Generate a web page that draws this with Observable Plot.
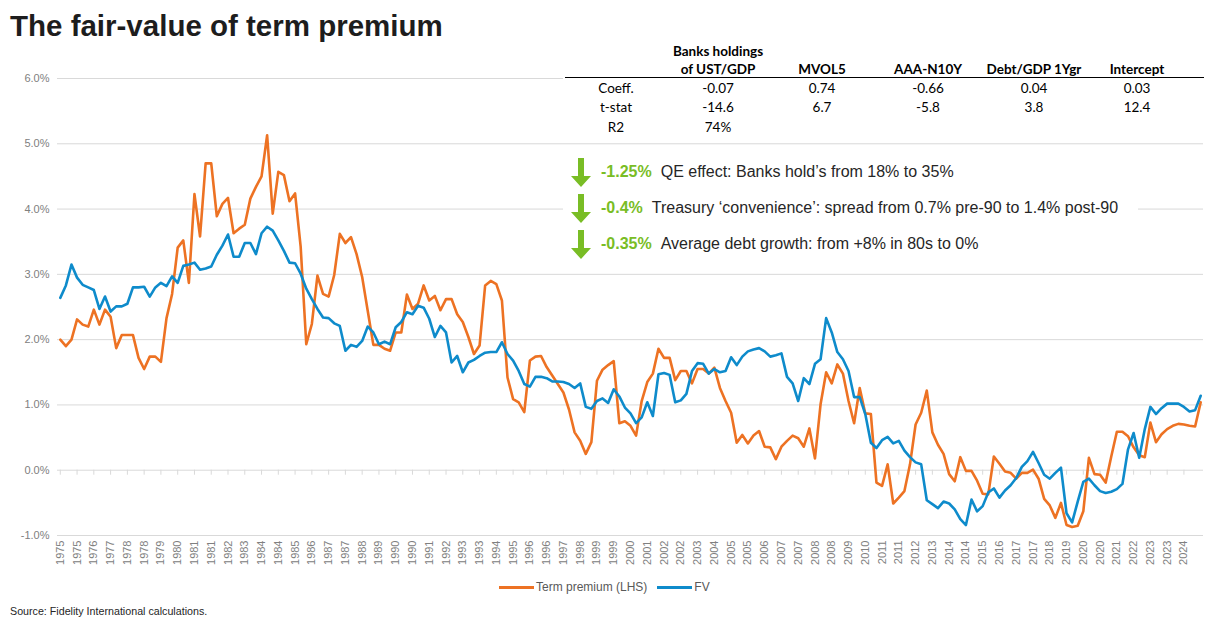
<!DOCTYPE html>
<html>
<head>
<meta charset="utf-8">
<script src="https://cdn.jsdelivr.net/npm/d3@7"></script>
<script src="https://cdn.jsdelivr.net/npm/@observablehq/plot@0.6"></script>
<style>
  body { margin: 0; background: #fff; font-family: "Liberation Sans", Arial, sans-serif; }
  #wrap { position: relative; width: 1222px; height: 621px; overflow: hidden; background: #fff; }
  #title { position: absolute; left: 10px; top: 9px; font-size: 29.5px; font-weight: bold; color: #1d1d1d; line-height: 34px; white-space: nowrap; }
  #chart { position: absolute; left: 0; top: 50px; }
  #table { position: absolute; left: 563px; top: 38px; width: 641px; height: 98px; background: #fff; font-family: Lato, "Liberation Sans", sans-serif; font-size: 13.5px; color: #000; }
  #table .rule { position: absolute; left: 2px; right: 0; top: 39px; height: 0; border-top: 1px solid #000; }
  #table .c { position: absolute; transform: translate(-50%, -50%); white-space: nowrap; line-height: 16px; }
  #table .h { font-weight: bold; }
  #notes { position: absolute; left: 563px; top: 150px; width: 575px; height: 112px; background: #fff; }
  .note { position: absolute; left: 0; height: 30px; display: flex; align-items: center; white-space: nowrap; font-size: 16px; color: #262626; }
  .note svg { margin-left: 8px; margin-right: 10px; }
  .note .pct { color: #79BD25; font-weight: bold; margin-right: 9px; }
  #legend { position: absolute; top: 580px; left: 499px; display: flex; align-items: center; font-size: 12px; color: #595959; white-space: nowrap; }
  #legend .sw { display: inline-block; width: 35px; height: 3px; margin-right: 2px; }
  #source { position: absolute; left: 10px; top: 605px; font-size: 10.7px; color: #262626; white-space: nowrap; }
</style>
</head>
<body>
<div id="wrap">
  <div id="title">The fair-value of term premium</div>
  <div id="chart"></div>
  <div id="table"></div>
  <div id="notes"></div>
  <div id="legend"></div>
  <div id="source">Source: Fidelity International calculations.</div>
</div>
<script>
// ---------- data ----------
const tickLabels = ["1975","1975","1976","1977","1978","1978","1979","1980","1981","1981","1982","1983",
  "1984","1984","1985","1986","1987","1987","1988","1989","1990","1990","1991","1992","1993","1993",
  "1994","1995","1996","1996","1997","1998","1999","1999","2000","2001","2002","2002","2003","2004",
  "2005","2005","2006","2007","2007","2008","2008","2009","2010","2011","2011","2012","2013","2014","2014",
  "2015","2016","2017","2017","2018","2019","2020","2020","2021","2022","2023","2023","2024"];

const termPremium = [
  2.00,1.90,2.00,2.31,2.23,2.20,2.46,2.23,2.46,2.35,
  1.87,2.07,2.07,2.07,1.72,1.55,1.74,1.74,1.66,2.33,
  2.70,3.41,3.52,2.87,4.23,3.58,4.70,4.70,3.89,4.08,
  4.17,3.63,3.70,3.76,4.16,4.34,4.50,5.13,3.93,4.57,
  4.52,4.12,4.24,3.42,1.93,2.24,2.98,2.70,2.66,2.99,
  3.62,3.48,3.57,3.31,2.96,2.44,1.92,1.92,1.86,1.83,
  2.11,2.11,2.69,2.47,2.55,2.83,2.60,2.67,2.45,2.62,
  2.62,2.39,2.27,2.04,1.78,1.91,2.83,2.90,2.85,2.60,
  1.42,1.09,1.04,0.89,1.68,1.74,1.75,1.58,1.45,1.32,
  1.19,0.93,0.58,0.45,0.25,0.43,1.37,1.54,1.61,1.67,
  0.72,0.75,0.68,0.53,1.06,1.35,1.48,1.86,1.72,1.72,
  1.38,1.52,1.52,1.33,1.55,1.55,1.48,1.57,1.26,1.06,
  0.88,0.42,0.54,0.41,0.53,0.60,0.36,0.35,0.17,0.36,
  0.45,0.53,0.49,0.36,0.64,0.18,1.01,1.50,1.33,1.62,
  1.48,1.06,0.72,1.26,0.87,0.86,-0.19,-0.24,0.09,-0.51,
  -0.42,-0.32,0.09,0.70,0.88,1.22,0.58,0.39,0.25,-0.06,
  -0.17,0.20,-0.01,-0.01,-0.16,-0.36,-0.37,0.21,0.10,-0.02,
  -0.04,-0.13,-0.04,-0.04,0.01,-0.13,-0.44,-0.54,-0.73,-0.50,
  -0.84,-0.87,-0.85,-0.63,0.19,-0.06,-0.07,-0.19,0.21,0.59,
  0.59,0.52,0.35,0.23,0.20,0.73,0.43,0.55,0.63,0.68,
  0.71,0.70,0.68,0.67,1.04
];

const fv = [
  2.64,2.83,3.15,2.95,2.84,2.80,2.76,2.47,2.66,2.43,
  2.51,2.51,2.55,2.80,2.80,2.81,2.66,2.80,2.87,2.82,
  2.97,2.87,3.13,3.15,3.18,3.07,3.09,3.12,3.30,3.44,
  3.61,3.27,3.27,3.48,3.48,3.31,3.63,3.73,3.67,3.52,
  3.36,3.18,3.17,3.01,2.78,2.62,2.47,2.34,2.33,2.25,
  2.21,1.83,1.92,1.89,1.98,2.20,2.11,1.93,1.97,1.93,
  2.19,2.27,2.42,2.39,2.52,2.49,2.32,2.04,2.21,2.11,
  1.65,1.75,1.50,1.65,1.69,1.75,1.80,1.81,1.81,1.96,
  1.78,1.68,1.52,1.32,1.28,1.43,1.43,1.41,1.36,1.36,
  1.35,1.32,1.26,1.33,0.97,0.94,1.06,1.10,1.03,1.24,
  1.13,0.96,0.87,0.72,0.81,1.04,0.83,1.47,1.49,1.46,
  1.04,1.07,1.17,1.52,1.64,1.63,1.48,1.55,1.50,1.52,
  1.73,1.61,1.74,1.82,1.85,1.87,1.82,1.74,1.76,1.79,
  1.43,1.33,1.06,1.41,1.32,1.63,1.70,2.33,2.11,1.81,
  1.70,1.52,1.12,1.12,0.86,0.42,0.34,0.46,0.51,0.41,
  0.45,0.30,0.20,0.12,0.09,-0.46,-0.52,-0.58,-0.48,-0.51,
  -0.60,-0.75,-0.84,-0.45,-0.63,-0.55,-0.34,-0.28,-0.42,-0.31,
  -0.23,-0.12,0.05,0.14,0.28,0.11,-0.07,-0.13,-0.04,0.04,
  -0.66,-0.80,-0.48,-0.18,-0.13,-0.23,-0.32,-0.35,-0.33,-0.29,
  -0.21,0.32,0.57,0.19,0.63,0.97,0.86,0.95,1.02,1.02,
  1.02,0.97,0.90,0.92,1.14
];

const yTicks = [-1, 0, 1, 2, 3, 4, 5, 6];

// regression table
const tableHeaders = ["Banks holdings\nof UST/GDP", "MVOL5", "AAA-N10Y", "Debt/GDP 1Ygr", "Intercept"];
const rowNames = ["Coeff.", "t-stat", "R2"];
const coeffRow = ["-0.07", "0.74", "-0.66", "0.04", "0.03"];
const tstatRow = ["-14.6", "6.7", "-5.8", "3.8", "12.4"];
const r2Row = ["74%"];

// annotations
const notePcts = ["-1.25%", "-0.4%", "-0.35%"];
const noteTexts = ["QE effect: Banks hold\u2019s from 18% to 35%",
  "Treasury \u2018convenience\u2019: spread from 0.7% pre-90 to 1.4% post-90",
  "Average debt growth: from +8% in 80s to 0%"];

const seriesNames = ["Term premium (LHS)", "FV"];
const seriesColors = ["#ED7223", "#0E8BCB"];

// ---------- chart ----------
const idx = termPremium.map((_, i) => i);
const tickIdx = tickLabels.map((_, k) => 3 * k);

const chart = Plot.plot({
  width: 1222,
  height: 532,
  marginTop: 28,
  marginBottom: 47,
  marginLeft: 57,
  marginRight: 19,
  x: { domain: [-0.5, termPremium.length - 0.5], axis: null },
  y: { domain: [-1, 6], axis: null },
  style: { fontFamily: "'Liberation Sans', Arial, sans-serif", fontSize: "11px", color: "#808080", background: "white" },
  marks: [
    Plot.ruleY(yTicks, { stroke: "#d9d9d9", strokeWidth: 1 }),
    Plot.ruleX(tickIdx, { x: d => d, y1: 0, y2: 0, insetBottom: -5, stroke: "#d9d9d9" }),
    Plot.axisY(yTicks, { tickSize: 0, tickPadding: 8, tickFormat: d => d.toFixed(1) + "%", label: null }),
    Plot.axisX(tickIdx, { anchor: "bottom", tickSize: 0, tickPadding: 5, tickRotate: -90, tickFormat: d => tickLabels[d / 3], label: null }),
    Plot.line(idx, { x: i => i, y: i => termPremium[i], stroke: seriesColors[0], strokeWidth: 2.6 }),
    Plot.line(idx, { x: i => i, y: i => fv[i], stroke: seriesColors[1], strokeWidth: 2.6 })
  ]
});
document.getElementById("chart").appendChild(chart);

// ---------- table ----------
const table = document.getElementById("table");
const colX = [155, 259, 365, 471, 574];  // relative to table left
const labelX = 53;
const rowY = [50, 69, 89];
function cell(txt, x, y, cls) {
  const d = document.createElement("div");
  d.className = "c" + (cls ? " " + cls : "");
  d.style.left = x + "px"; d.style.top = y + "px";
  d.textContent = txt;
  table.appendChild(d);
}
tableHeaders.forEach((h, j) => {
  const parts = h.split("\n");
  if (parts.length === 2) { cell(parts[0], colX[j], 13, "h"); cell(parts[1], colX[j], 31, "h"); }
  else cell(parts[0], colX[j], 31, "h");
});
const rl = document.createElement("div"); rl.className = "rule"; table.appendChild(rl);
rowNames.forEach((n, r) => cell(n, labelX, rowY[r]));
coeffRow.forEach((v, j) => cell(v, colX[j], rowY[0]));
tstatRow.forEach((v, j) => cell(v, colX[j], rowY[1]));
r2Row.forEach((v, j) => cell(v, colX[j], rowY[2]));

// ---------- notes ----------
const notes = document.getElementById("notes");
const arrowSvg = '<svg width="20" height="29" viewBox="0 0 20 29"><polygon points="7,0 13,0 13,18 20,18 10,29 0,18 7,18" fill="#79BD25"/></svg>';
notePcts.forEach((p, k) => {
  const d = document.createElement("div");
  d.className = "note";
  d.style.top = (7 + k * 36) + "px";
  d.innerHTML = arrowSvg + '<span class="pct">' + p + '</span><span></span>';
  d.lastChild.textContent = noteTexts[k];
  notes.appendChild(d);
});

// ---------- legend ----------
const legend = document.getElementById("legend");
seriesNames.forEach((n, k) => {
  const s = document.createElement("span"); s.className = "sw"; s.style.background = seriesColors[k];
  const t = document.createElement("span"); t.textContent = n; t.style.marginRight = k === 0 ? "10px" : "0";
  legend.appendChild(s); legend.appendChild(t);
});
</script>
</body>
</html>
